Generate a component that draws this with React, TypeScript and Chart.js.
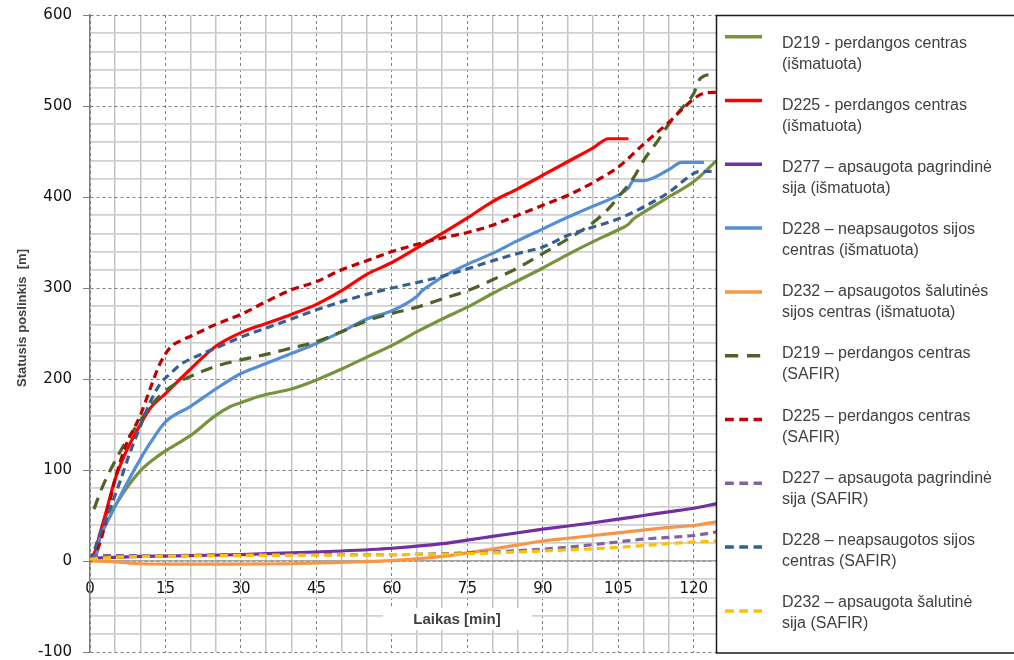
import React, { useEffect, useRef } from "react";
import { Chart, registerables } from "chart.js";

Chart.register(...registerables);

// Time [min] / displacement [m] pairs for each series
const d219MeasT = [0, 1, 2, 3, 5, 7, 10, 12, 15, 18, 20, 25, 28, 30, 33, 35, 40, 45, 50, 55, 60, 65, 70, 75, 80, 85, 90, 95, 100, 105, 107, 108, 110, 115, 120, 124.5];
const d219MeasV = [0, 10, 30, 48, 61, 78, 99, 109, 121, 131, 138, 160, 170, 174, 180, 183, 189, 199, 211, 224, 237, 252, 266, 279, 294, 308, 322, 337, 351, 364, 370, 376, 383, 400, 417, 440];

const d225MeasT = [0, 1, 2, 3, 5, 7, 10, 12, 15, 20, 25, 30, 35, 40, 45, 50, 55, 60, 65, 70, 75, 80, 85, 90, 95, 100, 103, 107];
const d225MeasV = [0, 10, 30, 50, 90, 118, 150, 168, 184, 211, 236, 251, 261, 271, 282, 297, 315, 328, 344, 360, 377, 395, 409, 424, 439, 454, 464, 464];

const d277MeasT = [0, 10, 20, 30, 40, 50, 60, 70, 75, 80, 90, 100, 105, 110, 115, 120, 124.5];
const d277MeasV = [3, 5, 6, 7, 9, 11, 14, 19, 23, 27, 35, 42, 46, 50, 54, 58, 63];

const d228MeasT = [0, 1, 2, 3, 5, 7, 10, 12, 15, 20, 25, 30, 35, 40, 45, 50, 55, 60, 65, 66, 67, 70, 75, 80, 85, 90, 95, 100, 105, 107, 108, 110, 115, 117.6, 122];
const d228MeasV = [0, 2, 25, 38, 60, 82, 112, 130, 153, 170, 189, 206, 217, 228, 239, 252, 266, 275, 291, 297, 301, 312, 326, 338, 352, 365, 378, 390, 402, 410, 418, 418, 430, 438, 438];

const d232MeasT = [0, 5, 10, 20, 30, 40, 50, 60, 70, 75, 80, 90, 95, 100, 105, 110, 115, 120, 124.5];
const d232MeasV = [0, -1, -3, -3.5, -3.5, -3, -1.5, 0.5, 5, 9, 13, 22, 25, 28, 31, 34, 37, 39, 43];

const d219SafirT = [0.8, 2, 3, 5, 7, 10, 12, 15, 18, 20, 25, 30, 35, 40, 45, 50, 55, 60, 65, 70, 75, 80, 85, 90, 95, 100, 103, 105, 108, 110, 113, 115, 118, 120, 121, 122, 124.5];
const d219SafirV = [57, 75, 88, 110, 130, 154, 170, 187, 198, 203, 214, 221, 227, 234, 241, 252, 264, 272, 279, 288, 297, 309, 322, 338, 354, 372, 387, 400, 421, 440, 463, 480, 500, 514, 528, 533, 535];

const d225SafirT = [0, 2, 5, 7, 10, 12, 14, 16, 18, 20, 25, 30, 35, 40, 45, 50, 55, 60, 65, 70, 75, 80, 85, 90, 95, 100, 105, 110, 115, 118, 120, 122, 124.5];
const d225SafirV = [0, 20, 90, 125, 160, 190, 218, 235, 242, 247, 260, 271, 285, 298, 307, 320, 330, 340, 348, 355, 361, 369, 380, 391, 402, 416, 433, 458, 482, 498, 508, 514, 515];

const d227SafirT = [0, 15, 30, 45, 60, 70, 75, 80, 90, 100, 105, 110, 115, 120, 124.5];
const d227SafirV = [6, 6, 7, 7, 7, 8, 9, 10, 13, 18, 21, 24, 26, 28, 32];

const d228SafirT = [0, 1, 2, 4, 6, 8, 10, 12, 14, 16, 18, 20, 25, 30, 35, 40, 45, 50, 55, 60, 65, 70, 75, 80, 85, 90, 95, 100, 105, 110, 115, 120, 121, 124.5];
const d228SafirV = [0, 14, 30, 58, 88, 120, 148, 175, 195, 206, 216, 222, 234, 246, 256, 266, 276, 285, 293, 300, 306, 313, 321, 330, 338, 345, 358, 367, 376, 389, 405, 426, 428, 428];

const d232SafirT = [0, 5, 10, 20, 30, 45, 60, 75, 90, 105, 110, 115, 120, 124.5];
const d232SafirV = [2, 4, 5, 5.5, 6, 6.5, 7, 8, 11, 15, 17, 19, 21, 22];

const seriesLabels = [
  "D219 - perdangos centras\n(išmatuota)",
  "D225 - perdangos centras\n(išmatuota)",
  "D277 – apsaugota pagrindinė\nsija (išmatuota)",
  "D228 – neapsaugotos sijos\ncentras (išmatuota)",
  "D232 – apsaugotos šalutinės\nsijos centras (išmatuota)",
  "D219 – perdangos centras\n(SAFIR)",
  "D225 – perdangos centras\n(SAFIR)",
  "D227 – apsaugota pagrindinė\nsija (SAFIR)",
  "D228 – neapsaugotos sijos\ncentras (SAFIR)",
  "D232 – apsaugota šalutinė\nsija (SAFIR)",
];

const seriesColors = ["#77933C", "#FF0000", "#7030A0", "#558ED5", "#F79646", "#4F6228", "#C00000", "#8064A2", "#376092", "#FFC000"];

const xTickStep = 5;
const xLabelStep = 15;
const yTickStep = 20;
const yLabelStep = 100;

const xTitle = "Laikas [min]";
const yTitle = "Statusis poslinkis  [m]";

const pairs = (t: number[], v: number[]) => t.map((x, i) => ({ x, y: v[i] }));

const seriesData = [
  pairs(d219MeasT, d219MeasV),
  pairs(d225MeasT, d225MeasV),
  pairs(d277MeasT, d277MeasV),
  pairs(d228MeasT, d228MeasV),
  pairs(d232MeasT, d232MeasV),
  pairs(d219SafirT, d219SafirV),
  pairs(d225SafirT, d225SafirV),
  pairs(d227SafirT, d227SafirV),
  pairs(d228SafirT, d228SafirV),
  pairs(d232SafirT, d232SafirV),
];

const dashFor = (i: number): number[] => {
  if (i < 5) return [];
  if (i === 5) return [12, 8];
  return [8, 5];
};

// Titles and the boxed legend, painted on top of the plot
const decorations = {
  id: "decorations",
  afterDraw(chart: any) {
    const ctx = chart.ctx as CanvasRenderingContext2D;
    ctx.save();

    // y-axis title
    ctx.translate(22, 318);
    ctx.rotate(-Math.PI / 2);
    ctx.font = "bold 13px 'Liberation Sans', Arial, sans-serif";
    ctx.fillStyle = "#404040";
    ctx.textAlign = "center";
    ctx.textBaseline = "middle";
    ctx.fillText(yTitle, 0, 0);
    ctx.setTransform(1, 0, 0, 1, 0, 0);

    // x-axis title on a white patch
    ctx.fillStyle = "#ffffff";
    ctx.fillRect(383, 608, 149, 22);
    ctx.font = "bold 15px 'Liberation Sans', Arial, sans-serif";
    ctx.fillStyle = "#404040";
    ctx.textAlign = "center";
    ctx.textBaseline = "middle";
    ctx.fillText(xTitle, 457, 620);

    // legend box
    const lx = 716.5;
    const ly = 15.5;
    const lw = 320;
    const lh = 637.5;
    ctx.fillStyle = "#ffffff";
    ctx.fillRect(lx, ly, lw, lh);
    ctx.strokeStyle = "#1a1a1a";
    ctx.lineWidth = 1.5;
    ctx.strokeRect(lx, ly, lw, lh);

    ctx.font = "16px 'Liberation Sans', Arial, sans-serif";
    ctx.textAlign = "left";
    ctx.textBaseline = "middle";
    chart.data.datasets.forEach((ds: any, i: number) => {
      const sy = 36.7 + i * 63.8;
      ctx.beginPath();
      ctx.setLineDash(dashFor(i).map((d) => d * 1.1));
      ctx.strokeStyle = ds.borderColor;
      ctx.lineWidth = 3.5;
      ctx.moveTo(725, sy);
      ctx.lineTo(762, sy);
      ctx.stroke();
      ctx.setLineDash([]);
      const lines = String(ds.label).split("\n");
      const cy = 54 + i * 62.1;
      ctx.fillStyle = "#404040";
      lines.forEach((ln, k) => {
        ctx.fillText(ln, 782, cy + (k - (lines.length - 1) / 2) * 21);
      });
    });

    ctx.restore();
  },
};

export default function App() {
  const canvasRef = useRef<HTMLCanvasElement | null>(null);

  useEffect(() => {
    const canvas = canvasRef.current;
    if (!canvas) return;
    const chart = new Chart(canvas, {
      type: "line",
      data: {
        datasets: seriesData.map((data, i) => ({
          label: seriesLabels[i],
          data,
          borderColor: seriesColors[i],
          backgroundColor: seriesColors[i],
          borderWidth: 3.2,
          borderDash: dashFor(i),
          pointRadius: 0,
          fill: false,
          cubicInterpolationMode: "monotone" as const,
          order: 20 - i,
        })),
      },
      options: {
        animation: false,
        responsive: true,
        maintainAspectRatio: false,
        layout: { padding: { left: 0, top: 15, right: 295, bottom: 8 } },
        plugins: { legend: { display: false }, tooltip: { enabled: false } },
        scales: {
          x: {
            type: "linear",
            position: { y: 0 } as any,
            min: 0,
            max: 125,
            afterFit: (s: any) => {
              s.height = 0;
              s.paddingTop = 0;
              s.paddingBottom = 0;
            },
            ticks: {
              stepSize: xTickStep,
              autoSkip: false,
              maxRotation: 0,
              padding: 19,
              color: "#111111",
              font: { family: "'DejaVu Sans', sans-serif", size: 15 },
              callback: (v: any) => (Number(v) % xLabelStep === 0 ? String(v) : ""),
            },
            grid: {
              drawTicks: false,
              color: (c: any) => (c.tick && c.tick.value % xLabelStep === 0 ? "#7f7f7f" : "#c4c4c4"),
              lineWidth: (c: any) => (c.tick && c.tick.value % xLabelStep === 0 ? 1 : 1.5),
            },
            border: {
              display: true,
              color: "#a6a6a6",
              width: 1.5,
              dash: (c: any) => (c.tick && c.tick.value % xLabelStep === 0 ? [3, 3] : []),
            },
          },
          y: {
            type: "linear",
            min: -100,
            max: 600,
            afterFit: (s: any) => {
              s.width = 90;
              s.paddingTop = 0;
              s.paddingBottom = 0;
            },
            ticks: {
              stepSize: yTickStep,
              autoSkip: false,
              padding: 11,
              color: "#111111",
              font: { family: "'DejaVu Sans', sans-serif", size: 15 },
              callback: (v: any) => (Number(v) % yLabelStep === 0 ? String(v) : ""),
            },
            grid: {
              drawTicks: true,
              tickLength: 7,
              tickColor: (c: any) => (c.tick && c.tick.value % yLabelStep === 0 ? "#808080" : "rgba(0,0,0,0)"),
              color: (c: any) => (c.tick && c.tick.value % yLabelStep === 0 ? "#7f7f7f" : "#d0d0d0"),
              lineWidth: (c: any) => (c.tick && c.tick.value % yLabelStep === 0 ? 1 : 1.8),
            },
            border: {
              display: true,
              color: "#808080",
              width: 1.5,
              dash: (c: any) => (c.tick && c.tick.value % yLabelStep === 0 ? [3, 3] : []),
            },
          },
        },
      },
      plugins: [decorations],
    });
    return () => chart.destroy();
  }, []);

  return (
    <div style={{ position: "fixed", left: 0, top: 0, width: 1014, height: 660, background: "#ffffff" }}>
      <canvas ref={canvasRef} />
    </div>
  );
}
